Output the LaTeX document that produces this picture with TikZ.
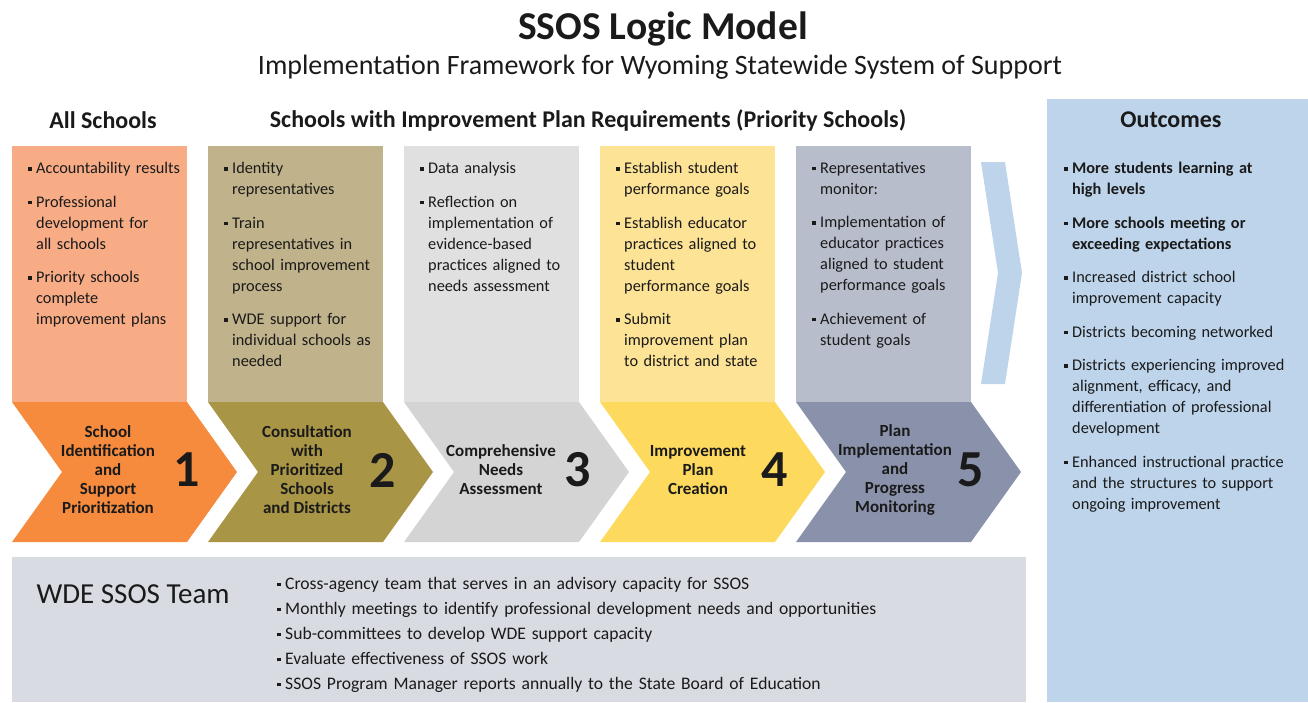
\documentclass[tikz,border=0pt]{standalone}
\usepackage{fontspec}
\setmainfont{Carlito}

\definecolor{boxA}{HTML}{F7AC86}
\definecolor{chevA}{HTML}{F68B3E}
\definecolor{boxB}{HTML}{C0B28A}
\definecolor{chevB}{HTML}{A99546}
\definecolor{boxC}{HTML}{E0E0E0}
\definecolor{chevC}{HTML}{D4D4D4}
\definecolor{boxD}{HTML}{FDE396}
\definecolor{chevD}{HTML}{FDDA5E}
\definecolor{boxE}{HTML}{B8BDCB}
\definecolor{chevE}{HTML}{8A92AB}
\definecolor{outblue}{HTML}{BDD4EB}
\definecolor{teamgray}{HTML}{D8DBE2}
\definecolor{ink}{HTML}{1A1A1A}

\newcommand\bitem[1]{\hangindent=8pt\hangafter=1\noindent\makebox[8pt][l]{\rule[3pt]{3.5pt}{3.5pt}}{\let\\\newline #1}\par}
\newcommand\gap{\vspace{12.5pt}}

\begin{document}
\begin{tikzpicture}[x=1pt, y=-1pt, text=ink,
    colhead/.style={font=\bfseries\fontsize{24}{26}\selectfont},
    coltext/.style={anchor=north west, inner sep=0pt, text width=160pt, align=left,
      font=\fontsize{16.3}{21}\selectfont},
    steplabel/.style={align=center, font=\bfseries\fontsize{17}{19}\selectfont},
    stepnum/.style={font=\bfseries\fontsize{52}{52}\selectfont}]
    \useasboundingbox (0,0) rectangle (1308,702);

    % headings
    \node[font=\bfseries\fontsize{39.5}{42}\selectfont] (title) at (663,29) {SSOS Logic Model};
    \node[font=\fontsize{28}{30}\selectfont] (subtitle) at (660,67) {Implementation Framework for Wyoming Statewide System of Support};

    % outcomes panel
    \fill[outblue] (1047,99) rectangle (1308,702);
    \node[colhead] (allhead) at (103,120) {All Schools};
    \node[colhead] (prihead) at (588,120) {Schools with Improvement Plan Requirements (Priority Schools)};
    \node[colhead] (outhead) at (1171,120) {Outcomes};

    % upper boxes
    \fill[boxA] (12,146) rectangle (187,402);
    \fill[boxB] (208,146) rectangle (383,402);
    \fill[boxC] (404,146) rectangle (579,402);
    \fill[boxD] (600,146) rectangle (775,402);
    \fill[boxE] (796,146) rectangle (971,402);
    \fill[outblue] (981,162) -- (1005,162) -- (1022,273) -- (1005,384) -- (981,384) -- (998,273) -- cycle;

    % step chevrons
    \fill[chevA] (12,402) -- ++(175,0) -- ++(50,70) -- ++(-50,70) -- ++(-175,0) -- ++(50,-70) -- cycle;
    \fill[chevB] (208,402) -- ++(175,0) -- ++(50,70) -- ++(-50,70) -- ++(-175,0) -- ++(50,-70) -- cycle;
    \fill[chevC] (404,402) -- ++(175,0) -- ++(50,70) -- ++(-50,70) -- ++(-175,0) -- ++(50,-70) -- cycle;
    \fill[chevD] (600,402) -- ++(175,0) -- ++(50,70) -- ++(-50,70) -- ++(-175,0) -- ++(50,-70) -- cycle;
    \fill[chevE] (796,402) -- ++(175,0) -- ++(50,70) -- ++(-50,70) -- ++(-175,0) -- ++(50,-70) -- cycle;

    \node[steplabel] (lbl1) at (108,470) {School\\Identification\\and\\Support\\Prioritization};
    \node[steplabel] (lbl2) at (307,470) {Consultation\\with\\Prioritized\\Schools\\and Districts};
    \node[steplabel] (lbl3) at (501,470) {Comprehensive\\Needs\\Assessment};
    \node[steplabel] (lbl4) at (698,470) {Improvement\\Plan\\Creation};
    \node[steplabel] (lbl5) at (895,470) {Plan\\Implementation\\and\\Progress\\Monitoring};
    \node[stepnum] (num1) at (187,470) {1};
    \node[stepnum] (num2) at (383,470) {2};
    \node[stepnum] (num3) at (578,470) {3};
    \node[stepnum] (num4) at (775,470) {4};
    \node[stepnum] (num5) at (971,470) {5};

    % column bullets
    \node[coltext] (col1) at (28,162) {%
      \bitem{Accountability results}\gap
      \bitem{Professional\\development for\\all schools}\gap
      \bitem{Priority schools\\complete\\improvement plans}};
    \node[coltext] (col2) at (224,162) {%
      \bitem{Identity\\representatives}\gap
      \bitem{Train\\representatives in\\school improvement\\process}\gap
      \bitem{WDE support for\\individual schools as\\needed}};
    \node[coltext] (col3) at (420,162) {%
      \bitem{Data analysis}\gap
      \bitem{Reflection on\\implementation of\\evidence-based\\practices aligned to\\needs assessment}};
    \node[coltext] (col4) at (616,162) {%
      \bitem{Establish student\\performance goals}\gap
      \bitem{Establish educator\\practices aligned to\\student\\performance goals}\gap
      \bitem{Submit\\improvement plan\\to district and state}};
    \node[coltext] (col5) at (812,162) {%
      \bitem{Representatives\\monitor:}\gap
      \bitem{Implementation of\\educator practices\\aligned to student\\performance goals}\gap
      \bitem{Achievement of\\student goals}};
    \node[coltext, text width=236pt] (outcomes) at (1064,162) {%
      \bitem{\bfseries More students learning at\\high levels}\gap
      \bitem{\bfseries More schools meeting or\\exceeding expectations}\gap
      \bitem{Increased district school\\improvement capacity}\gap
      \bitem{Districts becoming networked}\gap
      \bitem{Districts experiencing improved\\alignment, efficacy, and\\differentiation of professional\\development}\gap
      \bitem{Enhanced instructional practice\\and the structures to support\\ongoing improvement}};

    % team
    \fill[teamgray] (12,557) rectangle (1026,702);
    \node[anchor=west, font=\fontsize{29}{32}\selectfont] (team) at (33,594) {WDE SSOS Team};
    \node[coltext, text width=720pt, font=\fontsize{17.6}{25}\selectfont] (teamlist) at (277,577) {%
      \bitem{Cross-agency team that serves in an advisory capacity for SSOS}
      \bitem{Monthly meetings to identify professional development needs and opportunities}
      \bitem{Sub-committees to develop WDE support capacity}
      \bitem{Evaluate effectiveness of SSOS work}
      \bitem{SSOS Program Manager reports annually to the State Board of Education}};
\end{tikzpicture}
\end{document}
